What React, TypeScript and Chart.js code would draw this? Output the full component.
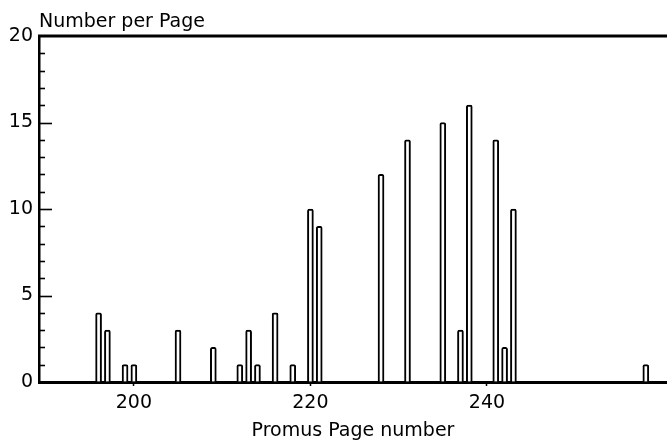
import React, { useEffect, useRef } from "react";
import { Chart, registerables } from "chart.js";

Chart.register(...registerables);

const pages = [196, 197, 199, 200, 205, 209, 212, 213, 214, 216, 218, 220, 221, 228, 231, 235, 237, 238, 241, 242, 243, 258];
const counts = [4, 3, 1, 1, 3, 2, 1, 3, 1, 4, 1, 10, 9, 12, 14, 15, 3, 16, 14, 2, 10, 1];
const xTicks = [200, 220, 240];
const yTicks = [0, 5, 10, 15, 20];
const X_TITLE = "Promus Page number";
const Y_TITLE = "Number per Page";

const FONT = '"DejaVu Sans", "Liberation Sans", sans-serif';

const decor = {
  id: "decor",
  afterDraw(chart: any) {
    const { ctx, chartArea, scales } = chart;
    const y = scales.y;
    ctx.save();
    ctx.strokeStyle = "#000";
    ctx.lineWidth = 1.6;
    for (let v = 1; v < 20; v++) {
      const py = Math.round(y.getPixelForValue(v)) + 0.5;
      const len = v % 5 === 0 ? 13 : 6;
      ctx.beginPath();
      ctx.moveTo(chartArea.left, py);
      ctx.lineTo(chartArea.left + len, py);
      ctx.stroke();
    }
    ctx.lineWidth = 3;
    ctx.beginPath();
    ctx.moveTo(chartArea.left - 1, chartArea.top);
    ctx.lineTo(chartArea.right, chartArea.top);
    ctx.stroke();
    ctx.fillStyle = "#000";
    ctx.font = "19px " + FONT;
    ctx.textAlign = "left";
    ctx.textBaseline = "alphabetic";
    ctx.fillText(Y_TITLE, chartArea.left, 27);
    ctx.textAlign = "center";
    ctx.fillText(X_TITLE, (chartArea.left + chartArea.right) / 2, 436);
    ctx.restore();
  },
};

export default function App() {
  const ref = useRef<HTMLCanvasElement | null>(null);
  useEffect(() => {
    document.body.style.margin = "0";
    if (!ref.current) return;
    const chart = new Chart(ref.current, {
      type: "bar",
      data: {
        datasets: [
          {
            data: pages.map((p, i) => ({ x: p, y: counts[i] })),
            backgroundColor: "#fff",
            borderColor: "#000",
            borderWidth: 2,
            borderRadius: { topLeft: 2, topRight: 2, bottomLeft: 0, bottomRight: 0 },
            borderSkipped: "start",
            barThickness: 6,
          } as any,
        ],
      },
      options: {
        responsive: false,
        animation: false,
        layout: { padding: { left: 0, top: 36, right: 0, bottom: 0 } },
        plugins: { legend: { display: false }, tooltip: { enabled: false }, title: { display: false } },
        scales: {
          x: {
            type: "linear",
            min: 189.25,
            max: 260.4,
            offset: false,
            afterFit: (s: any) => {
              s.height = 59;
            },
            afterBuildTicks: (s: any) => {
              s.ticks = xTicks.map((v) => ({ value: v }));
            },
            ticks: {
              color: "#000",
              font: { family: FONT, size: 19 },
              padding: 6,
              maxRotation: 0,
              callback: (v: any) => String(v),
            },
            grid: { offset: false, drawOnChartArea: false, drawTicks: true, tickLength: 4, tickWidth: 1.5, tickColor: "#000" },
            border: { color: "#000", width: 3 },
          },
          y: {
            type: "linear",
            min: 0,
            max: 20,
            afterFit: (s: any) => {
              s.width = 39;
            },
            afterBuildTicks: (s: any) => {
              s.ticks = yTicks.map((v) => ({ value: v }));
            },
            ticks: {
              color: "#000",
              font: { family: FONT, size: 19 },
              padding: 6,
              callback: (v: any) => String(v),
            },
            grid: { drawOnChartArea: false, drawTicks: false },
            border: { color: "#000", width: 2.5 },
          },
        },
      },
      plugins: [decor],
    });
    return () => chart.destroy();
  }, []);
  return (
    <div style={{ width: 667, height: 441, background: "#fff" }}>
      <canvas ref={ref} width={667} height={441} />
    </div>
  );
}
